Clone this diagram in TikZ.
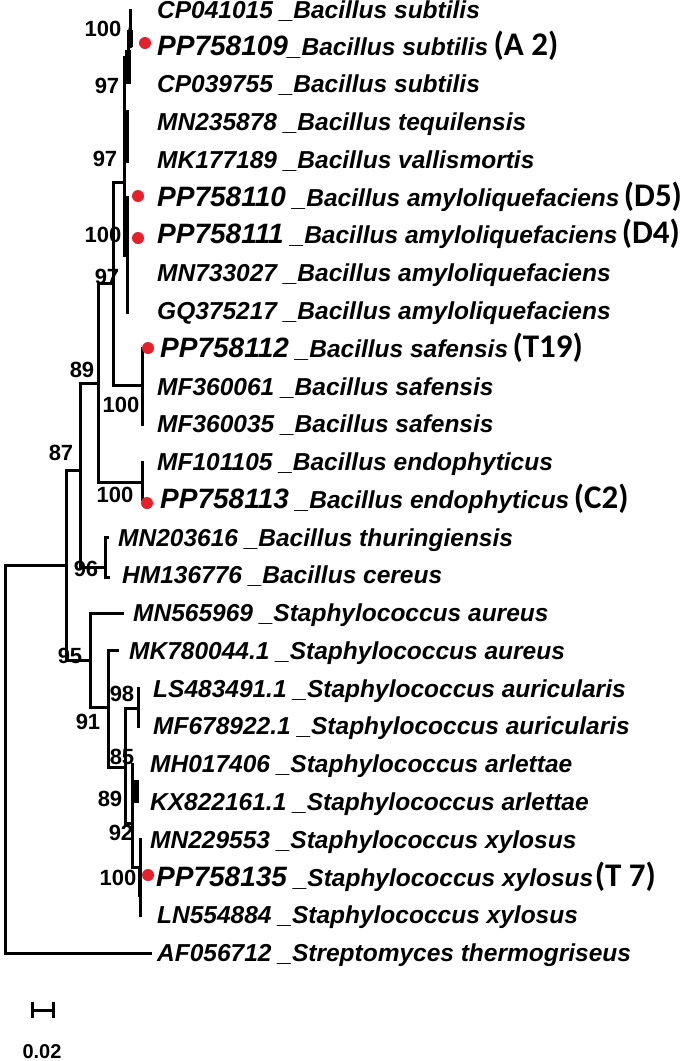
\documentclass[tikz,border=0pt]{standalone}
\usepackage{fontspec}
\setmainfont{Liberation Sans}
\newfontfamily\calfam{Carlito}
\newcommand\mylab{\fontsize{24.5}{28}\selectfont\bfseries\itshape}
\newcommand\mypp{\fontsize{28}{32}\selectfont\bfseries\itshape}
\newcommand\mysfx{\calfam\fontsize{33}{36}\selectfont\bfseries\upshape}
\newcommand\mybs{\fontsize{22}{24}\selectfont\bfseries\upshape}
\definecolor{dotred}{HTML}{E5202A}
\tikzset{
  leaf/.style={anchor=base west, inner sep=0pt, font=\mylab},
  sfx/.style={anchor=base west, inner sep=0pt, font=\mysfx},
  boot/.style={inner sep=0pt, font=\mybs},
  br/.style={line width=3pt, line cap=rect, line join=miter},
  thk/.style={line width=5.5pt},
  dot/.style={circle, fill=dotred, inner sep=0pt, minimum size=12pt},
}
\begin{document}
\begin{tikzpicture}[x=1pt, y=-1pt]
\fill[white] (0,0) rectangle (685,1061);
\useasboundingbox (0,0) rectangle (685,1061);

% ---------- internal nodes / leaf attachment points ----------
\coordinate (R) at (5,565);
\coordinate (N0) at (66,565);
\coordinate (afl) at (150,953.1);
\coordinate (N87) at (80,470);
\coordinate (N95) at (90,660);
\coordinate (A) at (98,383);
\coordinate (N96) at (105,567);
\coordinate (b15) at (107,537.6);
\coordinate (b16) at (108,577);
\coordinate (B) at (113,283);
\coordinate (En) at (142,482);
\coordinate (e13) at (142,462);
\coordinate (e14) at (142,499.8);
\coordinate (C) at (124,182);
\coordinate (Sa) at (142,385);
\coordinate (s10) at (142,348.7);
\coordinate (s12) at (142,424.2);
\coordinate (Sg) at (128,57);
\coordinate (Sgt) at (124,57);
\coordinate (n100a) at (130,29);
\coordinate (t1) at (130,10);
\coordinate (t2) at (130,46.5);
\coordinate (t3) at (128,84.3);
\coordinate (n97b) at (126,141);
\coordinate (t4) at (126,110);
\coordinate (t5) at (126,163);
\coordinate (Am) at (127,255);
\coordinate (a6) at (127,197.6);
\coordinate (a9) at (127,312);
% Staphylococcus
\coordinate (l17) at (122,613.1);
\coordinate (N91) at (108,707);
\coordinate (l18) at (117,650.9);
\coordinate (N85) at (125,767);
\coordinate (N98) at (138,708);
\coordinate (c19) at (138,688.7);
\coordinate (c20) at (138,726.4);
\coordinate (N92) at (132,823);
\coordinate (c21) at (132,764.2);
\coordinate (N89) at (136,790);
\coordinate (N100s) at (140,867);
\coordinate (c23) at (140,839.8);
\coordinate (c25) at (140,915.3);

% ---------- branches ----------
\draw[br] (R) |- (N0);
\draw[br] (R) |- (afl);
\draw[br] (N0) |- (N87);
\draw[br] (N0) |- (N95);
\draw[br] (N87) |- (A);
\draw[br] (N87) |- (N96);
\draw[br] (N96) |- (b15);
\draw[br] (N96) |- (b16);
\draw[br] (A) |- (B);
\draw[br] (A) |- (En);
\draw[br] (En) -- (e13);
\draw[br] (En) -- (e14);
\draw[br] (B) |- (C);
\draw[br] (B) |- (Sa);
\draw[br] (Sa) -- (s10);
\draw[br] (Sa) -- (s12);
% top Bacillus cluster
\draw[br] (C) -- (Sgt);
\draw[br] (C) |- (Am);
\draw[br] (Sgt) -- (Sg);
\draw[br] (Sg) -- (n100a);
\draw[thk] (128,50) -- (t3);
\draw[br] (n100a) -- (t1);
\draw[br] (n100a) -- (t2);
\draw[thk] (130,30) -- (t2);
\draw[br] (124,141) -- (n97b);
\draw[thk] (n97b) -- (t4);
\draw[thk] (n97b) -- (t5);
\draw[br] (Am) -- (a6);
\draw[br] (Am) -- (a9);
\draw[line width=4.5pt] (127,200) -- (127,257);
% Staphylococcus cluster
\draw[br] (N95) |- (l17);
\draw[br] (N95) |- (N91);
\draw[br] (N91) |- (l18);
\draw[br] (N91) |- (N85);
\draw[br] (N85) |- (N98);
\draw[br] (N85) |- (N92);
\draw[br] (N98) -- (c19);
\draw[br] (N98) -- (c20);
\draw[br] (N92) -- (c21);
\draw[br] (N92) |- (N89);
\draw[thk] (136,780) -- (136,803);
\draw[br] (N92) |- (N100s);
\draw[br] (N100s) -- (c23);
\draw[br] (N100s) -- (c25);
\draw[line width=4.5pt] (140,867) -- (140,897);

% ---------- red markers ----------
\node[dot] (d2) at (145,43) {};
\node[dot] (d6) at (138,196) {};
\node[dot] (d7) at (138,238) {};
\node[dot] (d10) at (148,348) {};
\node[dot] (d14) at (147,503) {};
\node[dot] (d24) at (148,875) {};

% ---------- taxon labels ----------
\node[leaf] (l1)  at (157,18.5)  {CP041015 \_Bacillus subtilis};
\node[leaf] (l2)  at (157,55)    {{\mypp PP758109}\_Bacillus subtilis};
\node[sfx]  (x2)  at ([xshift=5pt]l2.base east) {(A 2)};
\node[leaf] (l3)  at (157,92.8)  {CP039755 \_Bacillus subtilis};
\node[leaf] (l4)  at (157,130.5) {MN235878 \_Bacillus tequilensis};
\node[leaf] (l5)  at (157,168.3) {MK177189 \_Bacillus vallismortis};
\node[leaf] (l6)  at (157,206.1) {{\mypp PP758110} \_Bacillus amyloliquefaciens};
\node[sfx]  (x6)  at ([xshift=4pt]l6.base east) {(D5)};
\node[leaf] (l7)  at (157,243.9) {{\mypp PP758111} \_Bacillus amyloliquefaciens};
\node[sfx]  (x7)  at ([xshift=4pt]l7.base east) {(D4)};
\node[leaf] (l8)  at (157,281.6) {MN733027 \_Bacillus amyloliquefaciens};
\node[leaf] (l9)  at (157,319.4) {GQ375217 \_Bacillus amyloliquefaciens};
\node[leaf] (l10) at (160,357.2) {{\mypp PP758112} \_Bacillus safensis};
\node[sfx]  (x10) at ([xshift=4pt]l10.base east) {(T19)};
\node[leaf] (l11) at (157,395)   {MF360061 \_Bacillus safensis};
\node[leaf] (l12) at (157,432.7) {MF360035 \_Bacillus safensis};
\node[leaf] (l13) at (157,470.5) {MF101105 \_Bacillus endophyticus};
\node[leaf] (l14) at (160,508.3) {{\mypp PP758113} \_Bacillus endophyticus};
\node[sfx]  (x14) at ([xshift=4pt]l14.base east) {(C2)};
\node[leaf] (l15) at (118,546.1) {MN203616 \_Bacillus thuringiensis};
\node[leaf] (l16) at (122,583.8) {HM136776 \_Bacillus cereus};
\node[leaf] (l17t) at (133,621.6) {MN565969 \_Staphylococcus aureus};
\node[leaf] (l18t) at (129,659.4) {MK780044.1 \_Staphylococcus aureus};
\node[leaf] (l19) at (153,697.2) {LS483491.1 \_Staphylococcus auricularis};
\node[leaf] (l20) at (153,734.9) {MF678922.1 \_Staphylococcus auricularis};
\node[leaf] (l21) at (150,772.7) {MH017406 \_Staphylococcus arlettae};
\node[leaf] (l22) at (150,810.5) {KX822161.1 \_Staphylococcus arlettae};
\node[leaf] (l23) at (150,848.3) {MN229553 \_Staphylococcus xylosus};
\node[leaf] (l24) at (156,886)   {{\mypp PP758135} \_Staphylococcus xylosus};
\node[sfx]  (x24) at ([xshift=1pt]l24.base east) {(T 7)};
\node[leaf] (l25) at (157,923.8) {LN554884 \_Staphylococcus xylosus};
\node[leaf] (l26) at (157,961.6) {AF056712 \_Streptomyces thermogriseus};

% ---------- bootstrap values ----------
\node[boot] (bs1)  at (103,29)  {100};
\node[boot] (bs2)  at (107,86)  {97};
\node[boot] (bs3)  at (105,159) {97};
\node[boot] (bs4)  at (103,235) {100};
\node[boot] (bs5)  at (107,277) {97};
\node[boot] (bs6)  at (82,370)  {89};
\node[boot] (bs7)  at (121,405) {100};
\node[boot] (bs8)  at (61,453)  {87};
\node[boot] (bs9)  at (115,495) {100};
\node[boot] (bs10) at (86,569)  {96};
\node[boot] (bs11) at (70,656)  {95};
\node[boot] (bs12) at (88,722)  {91};
\node[boot] (bs13) at (122,694) {98};
\node[boot] (bs14) at (122,757) {85};
\node[boot] (bs15) at (110,799) {89};
\node[boot] (bs16) at (121,833) {92};
\node[boot] (bs17) at (118,878) {100};

% ---------- scale bar ----------
\coordinate (sb1) at (32,1010);
\coordinate (sb2) at (53,1010);
\draw[line width=3pt] (sb1) -- (sb2);
\draw[line width=3pt] ([yshift=-8pt]sb1) -- ([yshift=8pt]sb1);
\draw[line width=3pt] ([yshift=-8pt]sb2) -- ([yshift=8pt]sb2);
\node[boot, font=\fontsize{20}{22}\selectfont\bfseries] (sbl) at (42,1052) {0.02};
\end{tikzpicture}
\end{document}
